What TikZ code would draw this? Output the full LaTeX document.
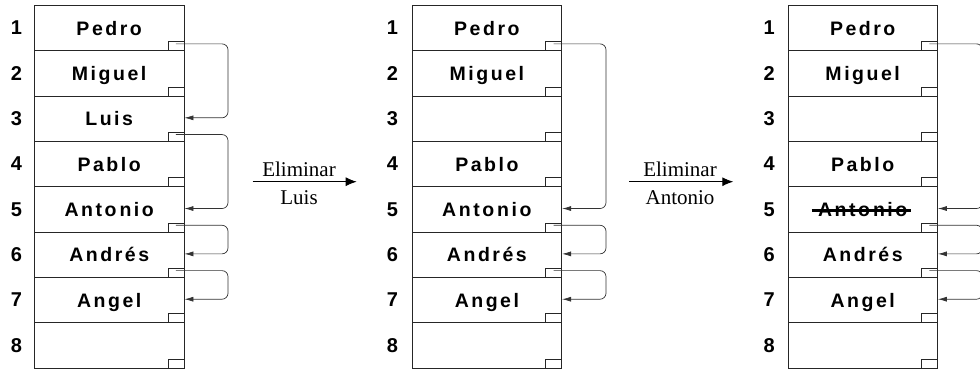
\documentclass[tikz,border=0pt]{standalone}
\usepackage{fontspec}
\setmainfont{Liberation Serif}
\newfontfamily\namefont[LetterSpace=13]{Liberation Sans}
\newfontfamily\numfont{Liberation Sans}
\usetikzlibrary{arrows.meta}

% one column of eight cells: #1 prefix, #2 left x, #3 x of the index column, #4 list index/name
\newcommand\drawlist[4]{%
  \foreach \n/\name in {#4}{
    \node[cell] (#1r\n) at (#2, {5+45.35*(\n-1)}) {\name};
    \node[ptr] (#1s\n) at (#1r\n.south east) {};
    \node[idx] (#1i\n) at (#3, {5+45.35*(\n-0.5)}) {\n};
  }%
}
% pointer from the small box of cell #2 to cell #3, vertical run at x=#4
\newcommand\drawlink[4]{%
  \coordinate (#1a#2) at ([yshift=-2.5pt]#1s#2.north);
  \coordinate (#1b#3) at ([yshift=1pt]#1r#3.east);
  \coordinate (#1v#2) at (#4,0);
  \draw[link] (#1a#2) -- (#1a#2 -| #1v#2) -- (#1b#3 -| #1v#2) -- (#1b#3);
}

\begin{document}
\begin{tikzpicture}[x=1pt,y=-1pt,
  cell/.style={draw=black!85, line width=0.9pt, minimum width=149.5pt,
    minimum height=45.35pt, inner sep=0pt, anchor=north west,
    text height=14pt, text depth=0pt,
    font=\namefont\bfseries\fontsize{19.5}{21}\selectfont},
  ptr/.style={draw=black!85, line width=0.9pt, minimum width=16pt,
    minimum height=9pt, inner sep=0pt, anchor=south east},
  idx/.style={inner sep=0pt, text height=14.3pt, text depth=0pt,
    font=\numfont\bfseries\fontsize{20}{22}\selectfont},
  link/.style={draw=black!80, line width=0.7pt, rounded corners=6pt,
    -{Latex[length=9pt,width=5pt]}},
  op/.style={line width=0.9pt, -{Latex[length=11pt,width=9pt]}},
  oplabel/.style={font=\fontsize{21}{23}\selectfont, inner sep=0pt, anchor=base},
  strike/.style={line width=2.8pt}
]
\useasboundingbox (0,0) rectangle (980,368);
\clip (0,0) rectangle (980,368);

% first column
\drawlist{p}{34}{16.5}{1/Pedro,2/Miguel,3/Luis,4/Pablo,5/Anto\kern3pt nio,6/Andrés,7/Angel,8/{}}
\drawlink{p}{1}{3}{228}
\drawlink{p}{3}{5}{228}
\drawlink{p}{5}{6}{228}
\drawlink{p}{6}{7}{228}

% second column
\drawlist{q}{411.7}{392.5}{1/Pedro,2/Miguel,3/{},4/Pablo,5/Anto\kern3pt nio,6/Andrés,7/Angel,8/{}}
\drawlink{q}{1}{5}{606}
\drawlink{q}{5}{6}{606}
\drawlink{q}{6}{7}{606}

% third column
\drawlist{t}{787.5}{769.2}{1/Pedro,2/Miguel,3/{},4/Pablo,5/Anto\kern3pt nio,6/Andrés,7/Angel,8/{}}
\drawlink{t}{1}{5}{982.5}
\drawlink{t}{5}{6}{982.5}
\drawlink{t}{6}{7}{982.5}
\draw[strike] ([xshift=-51pt,yshift=-1pt]tr5.center) -- ([xshift=48pt,yshift=-1pt]tr5.center);

% operations
\node[oplabel] (e1) at (299,176) {Eliminar};
\node[oplabel] (l1) at (299,204) {Luis};
\coordinate (o1s) at (252.7,181.7);
\coordinate (o1e) at (356.7,181.7);
\draw[op] (o1s) -- (o1e);

\node[oplabel] (e2) at (680,176) {Eliminar};
\node[oplabel] (l2) at (680,204) {Antonio};
\coordinate (o2s) at (629.3,181.7);
\coordinate (o2e) at (733.3,181.7);
\draw[op] (o2s) -- (o2e);
\end{tikzpicture}
\end{document}
